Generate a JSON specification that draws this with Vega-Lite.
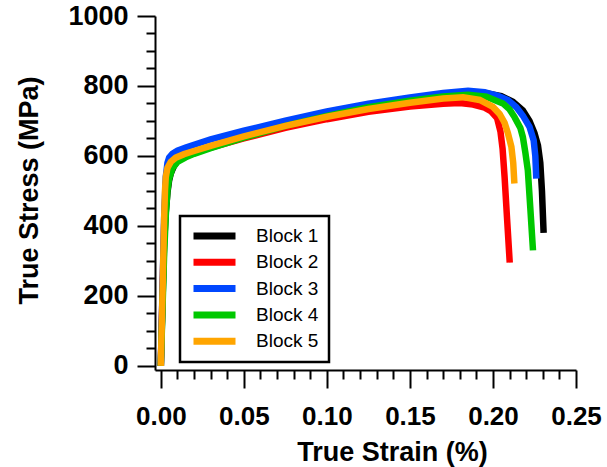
{
  "$schema": "https://vega.github.io/schema/vega-lite/v6.json",
  "autosize": "none",
  "width": 421,
  "height": 354,
  "padding": {"left": 155, "top": 16, "right": 31, "bottom": 97},
  "background": "white",
  "config": {
    "view": {"stroke": null},
    "font": "Liberation Sans",
    "legend": {"strokeWidth": 2.5}
  },
  "data": {
    "values": [
      {"block": "Block 1", "strain": 0, "stress": 0},
      {"block": "Block 1", "strain": 0.001, "stress": 180},
      {"block": "Block 1", "strain": 0.002, "stress": 350},
      {"block": "Block 1", "strain": 0.003, "stress": 440},
      {"block": "Block 1", "strain": 0.004, "stress": 495},
      {"block": "Block 1", "strain": 0.005, "stress": 530},
      {"block": "Block 1", "strain": 0.006, "stress": 550},
      {"block": "Block 1", "strain": 0.008, "stress": 572},
      {"block": "Block 1", "strain": 0.010, "stress": 585},
      {"block": "Block 1", "strain": 0.014, "stress": 597},
      {"block": "Block 1", "strain": 0.02, "stress": 608},
      {"block": "Block 1", "strain": 0.03, "stress": 625},
      {"block": "Block 1", "strain": 0.04, "stress": 641},
      {"block": "Block 1", "strain": 0.05, "stress": 655},
      {"block": "Block 1", "strain": 0.075, "stress": 688},
      {"block": "Block 1", "strain": 0.10, "stress": 716},
      {"block": "Block 1", "strain": 0.125, "stress": 740},
      {"block": "Block 1", "strain": 0.15, "stress": 760},
      {"block": "Block 1", "strain": 0.17, "stress": 774},
      {"block": "Block 1", "strain": 0.185, "stress": 781},
      {"block": "Block 1", "strain": 0.195, "stress": 780},
      {"block": "Block 1", "strain": 0.205, "stress": 771},
      {"block": "Block 1", "strain": 0.212, "stress": 755},
      {"block": "Block 1", "strain": 0.218, "stress": 730},
      {"block": "Block 1", "strain": 0.222, "stress": 700},
      {"block": "Block 1", "strain": 0.225, "stress": 665},
      {"block": "Block 1", "strain": 0.2271, "stress": 630},
      {"block": "Block 1", "strain": 0.2285, "stress": 580},
      {"block": "Block 1", "strain": 0.2295, "stress": 500},
      {"block": "Block 1", "strain": 0.2305, "stress": 380},

      {"block": "Block 2", "strain": 0, "stress": 0},
      {"block": "Block 2", "strain": 0.001, "stress": 200},
      {"block": "Block 2", "strain": 0.002, "stress": 400},
      {"block": "Block 2", "strain": 0.003, "stress": 520},
      {"block": "Block 2", "strain": 0.004, "stress": 558},
      {"block": "Block 2", "strain": 0.006, "stress": 578},
      {"block": "Block 2", "strain": 0.009, "stress": 590},
      {"block": "Block 2", "strain": 0.014, "stress": 600},
      {"block": "Block 2", "strain": 0.02, "stress": 609},
      {"block": "Block 2", "strain": 0.03, "stress": 624},
      {"block": "Block 2", "strain": 0.05, "stress": 650},
      {"block": "Block 2", "strain": 0.075, "stress": 680},
      {"block": "Block 2", "strain": 0.10, "stress": 705},
      {"block": "Block 2", "strain": 0.125, "stress": 726},
      {"block": "Block 2", "strain": 0.15, "stress": 741},
      {"block": "Block 2", "strain": 0.17, "stress": 749},
      {"block": "Block 2", "strain": 0.18, "stress": 751},
      {"block": "Block 2", "strain": 0.188, "stress": 747},
      {"block": "Block 2", "strain": 0.195, "stress": 738},
      {"block": "Block 2", "strain": 0.199, "stress": 727},
      {"block": "Block 2", "strain": 0.2025, "stress": 708},
      {"block": "Block 2", "strain": 0.2045, "stress": 670},
      {"block": "Block 2", "strain": 0.2058, "stress": 620},
      {"block": "Block 2", "strain": 0.207, "stress": 540},
      {"block": "Block 2", "strain": 0.2085, "stress": 420},
      {"block": "Block 2", "strain": 0.2101, "stress": 295},

      {"block": "Block 3", "strain": 0, "stress": 0},
      {"block": "Block 3", "strain": 0.001, "stress": 210},
      {"block": "Block 3", "strain": 0.002, "stress": 420},
      {"block": "Block 3", "strain": 0.003, "stress": 540},
      {"block": "Block 3", "strain": 0.004, "stress": 580},
      {"block": "Block 3", "strain": 0.005, "stress": 595},
      {"block": "Block 3", "strain": 0.007, "stress": 606},
      {"block": "Block 3", "strain": 0.010, "stress": 615},
      {"block": "Block 3", "strain": 0.015, "stress": 624},
      {"block": "Block 3", "strain": 0.02, "stress": 632},
      {"block": "Block 3", "strain": 0.03, "stress": 647},
      {"block": "Block 3", "strain": 0.05, "stress": 672},
      {"block": "Block 3", "strain": 0.075, "stress": 701},
      {"block": "Block 3", "strain": 0.10, "stress": 727},
      {"block": "Block 3", "strain": 0.125, "stress": 749},
      {"block": "Block 3", "strain": 0.15, "stress": 767},
      {"block": "Block 3", "strain": 0.17, "stress": 780},
      {"block": "Block 3", "strain": 0.185, "stress": 786},
      {"block": "Block 3", "strain": 0.195, "stress": 782},
      {"block": "Block 3", "strain": 0.203, "stress": 772},
      {"block": "Block 3", "strain": 0.209, "stress": 760},
      {"block": "Block 3", "strain": 0.214, "stress": 740},
      {"block": "Block 3", "strain": 0.218, "stress": 715},
      {"block": "Block 3", "strain": 0.222, "stress": 683},
      {"block": "Block 3", "strain": 0.2245, "stress": 645},
      {"block": "Block 3", "strain": 0.2255, "stress": 600},
      {"block": "Block 3", "strain": 0.2261, "stress": 535},

      {"block": "Block 4", "strain": 0, "stress": 0},
      {"block": "Block 4", "strain": 0.001, "stress": 160},
      {"block": "Block 4", "strain": 0.002, "stress": 320},
      {"block": "Block 4", "strain": 0.003, "stress": 430},
      {"block": "Block 4", "strain": 0.004, "stress": 500},
      {"block": "Block 4", "strain": 0.005, "stress": 535},
      {"block": "Block 4", "strain": 0.007, "stress": 565},
      {"block": "Block 4", "strain": 0.010, "stress": 583},
      {"block": "Block 4", "strain": 0.015, "stress": 596},
      {"block": "Block 4", "strain": 0.02, "stress": 606},
      {"block": "Block 4", "strain": 0.03, "stress": 622},
      {"block": "Block 4", "strain": 0.05, "stress": 652},
      {"block": "Block 4", "strain": 0.075, "stress": 686},
      {"block": "Block 4", "strain": 0.10, "stress": 714},
      {"block": "Block 4", "strain": 0.125, "stress": 739},
      {"block": "Block 4", "strain": 0.15, "stress": 758},
      {"block": "Block 4", "strain": 0.17, "stress": 770},
      {"block": "Block 4", "strain": 0.185, "stress": 775},
      {"block": "Block 4", "strain": 0.196, "stress": 769},
      {"block": "Block 4", "strain": 0.206, "stress": 750},
      {"block": "Block 4", "strain": 0.210, "stress": 733},
      {"block": "Block 4", "strain": 0.213, "stress": 711},
      {"block": "Block 4", "strain": 0.2165, "stress": 680},
      {"block": "Block 4", "strain": 0.218, "stress": 654},
      {"block": "Block 4", "strain": 0.2195, "stress": 610},
      {"block": "Block 4", "strain": 0.221, "stress": 559},
      {"block": "Block 4", "strain": 0.2225, "stress": 450},
      {"block": "Block 4", "strain": 0.2241, "stress": 330},

      {"block": "Block 5", "strain": 0, "stress": 0},
      {"block": "Block 5", "strain": 0.001, "stress": 200},
      {"block": "Block 5", "strain": 0.002, "stress": 420},
      {"block": "Block 5", "strain": 0.0025, "stress": 500},
      {"block": "Block 5", "strain": 0.003, "stress": 540},
      {"block": "Block 5", "strain": 0.004, "stress": 566},
      {"block": "Block 5", "strain": 0.006, "stress": 583},
      {"block": "Block 5", "strain": 0.009, "stress": 595},
      {"block": "Block 5", "strain": 0.014, "stress": 605},
      {"block": "Block 5", "strain": 0.02, "stress": 614},
      {"block": "Block 5", "strain": 0.03, "stress": 629},
      {"block": "Block 5", "strain": 0.05, "stress": 656},
      {"block": "Block 5", "strain": 0.075, "stress": 686},
      {"block": "Block 5", "strain": 0.10, "stress": 712},
      {"block": "Block 5", "strain": 0.125, "stress": 734},
      {"block": "Block 5", "strain": 0.15, "stress": 752},
      {"block": "Block 5", "strain": 0.17, "stress": 764},
      {"block": "Block 5", "strain": 0.182, "stress": 768},
      {"block": "Block 5", "strain": 0.192, "stress": 760},
      {"block": "Block 5", "strain": 0.2, "stress": 740},
      {"block": "Block 5", "strain": 0.204, "stress": 720},
      {"block": "Block 5", "strain": 0.207, "stress": 695},
      {"block": "Block 5", "strain": 0.209, "stress": 665},
      {"block": "Block 5", "strain": 0.2111, "stress": 626},
      {"block": "Block 5", "strain": 0.2122, "stress": 580},
      {"block": "Block 5", "strain": 0.2129, "stress": 521}
    ]
  },
  "mark": {"type": "line", "strokeWidth": 6.5, "clip": true},
  "encoding": {
    "x": {
      "field": "strain",
      "type": "quantitative",
      "scale": {"domain": [-0.0035, 0.25], "nice": false, "zero": false},
      "axis": {
        "values": [0, 0.01, 0.02, 0.03, 0.04, 0.05, 0.06, 0.07, 0.08, 0.09, 0.1, 0.11, 0.12, 0.13, 0.14, 0.15, 0.16, 0.17, 0.18, 0.19, 0.2, 0.21, 0.22, 0.23, 0.24, 0.25],
        "labelExpr": "abs(datum.value*20 - round(datum.value*20)) < 0.000001 ? format(datum.value, '.2f') : ''",
        "tickSize": {"condition": {"test": "abs(datum.value*20 - round(datum.value*20)) < 0.000001", "value": 18}, "value": 9},
        "tickWidth": 2,
        "tickColor": "black",
        "domainColor": "black",
        "domainWidth": 2,
        "grid": false,
        "labelFont": "Liberation Sans",
        "labelFontSize": 26,
        "labelFontWeight": "bold",
        "labelColor": "black",
        "labelPadding": 15,
        "labelFlush": false,
        "labelOverlap": false,
        "title": "True Strain (%)",
        "titleFont": "Liberation Sans",
        "titleFontSize": 27,
        "titleFontWeight": "bold",
        "titleColor": "black",
        "titleX": 237,
        "titleY": 90,
        "titleBaseline": "alphabetic",
        "titleAlign": "center"
      }
    },
    "y": {
      "field": "stress",
      "type": "quantitative",
      "scale": {"domain": [-12, 1000], "nice": false, "zero": false},
      "axis": {
        "values": [0, 50, 100, 150, 200, 250, 300, 350, 400, 450, 500, 550, 600, 650, 700, 750, 800, 850, 900, 950, 1000],
        "labelExpr": "datum.value % 200 == 0 ? format(datum.value, 'd') : ''",
        "tickSize": {"condition": {"test": "datum.value % 200 == 0", "value": 18}, "value": 9},
        "tickWidth": 2,
        "tickColor": "black",
        "domainColor": "black",
        "domainWidth": 2,
        "grid": false,
        "labelFont": "Liberation Sans",
        "labelFontSize": 27,
        "labelFontWeight": "bold",
        "labelColor": "black",
        "labelPadding": 9,
        "labelFlush": false,
        "labelOverlap": false,
        "title": "True Stress (MPa)",
        "titleFont": "Liberation Sans",
        "titleFontSize": 27,
        "titleFontWeight": "bold",
        "titleColor": "black",
        "titleX": -118,
        "titleY": 174,
        "titleAngle": 270,
        "titleBaseline": "alphabetic",
        "titleAlign": "center"
      }
    },
    "color": {
      "field": "block",
      "type": "nominal",
      "scale": {
        "domain": ["Block 1", "Block 2", "Block 3", "Block 4", "Block 5"],
        "range": ["#000000", "#ff0000", "#0047ff", "#00c800", "#ffa500"]
      },
      "legend": {
        "title": null,
        "orient": "none",
        "legendX": 25,
        "legendY": 200,
        "padding": 10,
        "fillColor": "white",
        "strokeColor": "black",
        "cornerRadius": 0,
        "symbolType": "stroke",
        "symbolSize": 1764,
        "symbolStrokeWidth": 7,
        "clipHeight": 20,
        "rowPadding": 6.3,
        "labelOffset": 17,
        "labelFont": "Liberation Sans",
        "labelFontSize": 19,
        "labelColor": "black",
        "labelBaseline": "middle"
      }
    }
  }
}
